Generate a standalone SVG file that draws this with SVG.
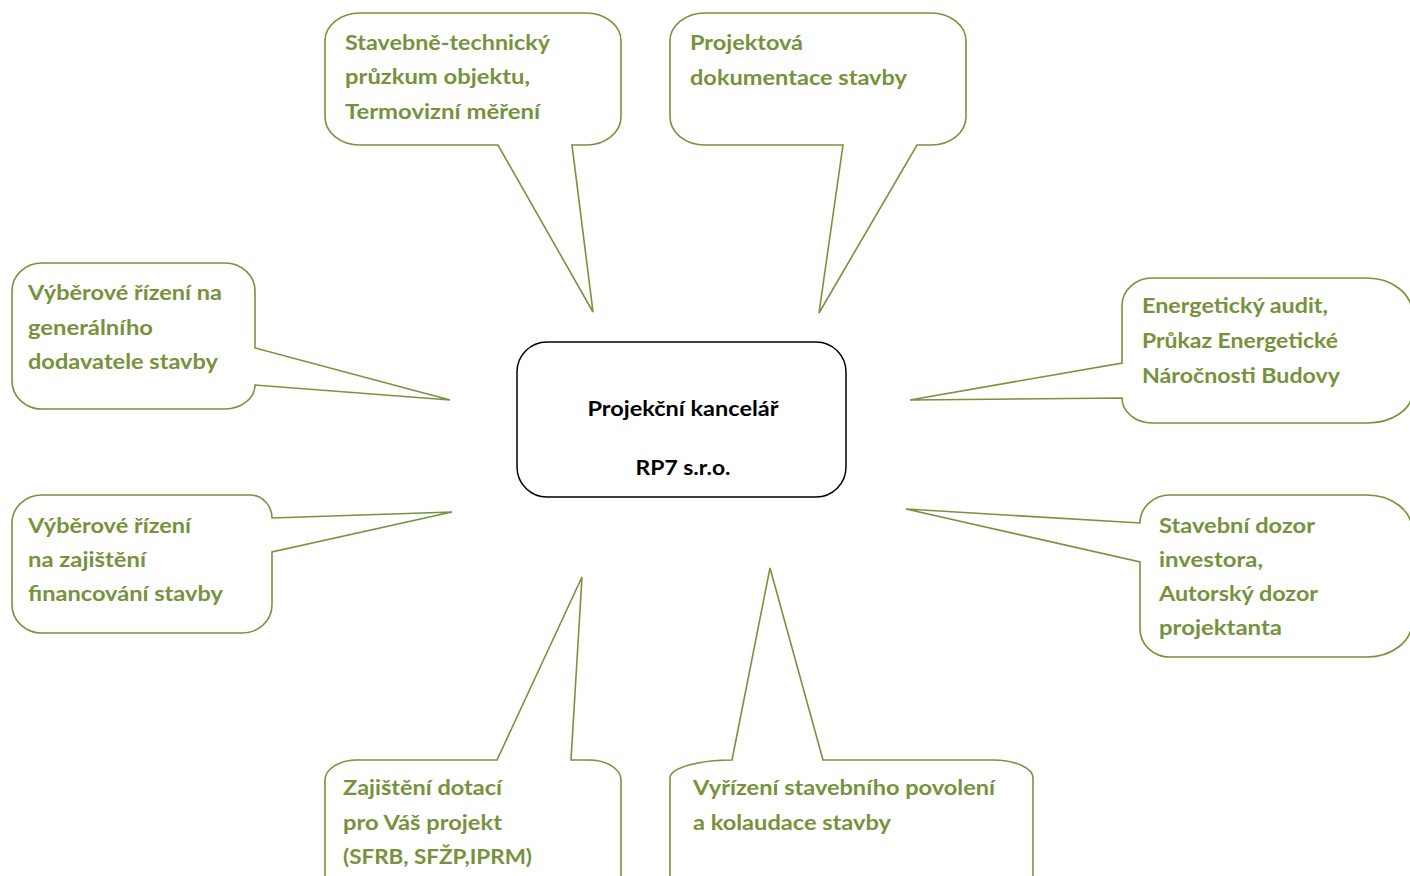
<svg xmlns="http://www.w3.org/2000/svg" width="1410" height="876" viewBox="0 0 1410 876">
<style>
.b{fill:#fff;stroke:#77933c;stroke-width:1.6;stroke-linejoin:miter}
.t{font-family:Lato,"Open Sans","Liberation Sans",sans-serif;font-weight:bold;font-size:21px;fill:#76923c}
.c{font-family:Lato,"Open Sans","Liberation Sans",sans-serif;font-weight:bold;font-size:20px;fill:#000;text-anchor:middle}
</style>
<rect width="1410" height="876" fill="#fff"/>
<g id="center">
<rect x="517" y="342" width="329" height="155" rx="30" ry="30" fill="#fff" stroke="#000" stroke-width="1.5"/>
<text class="c" x="683" y="416" textLength="191" lengthAdjust="spacingAndGlyphs">Projekční kancelář</text>
<text class="c" x="683" y="475" textLength="95" lengthAdjust="spacingAndGlyphs">RP7 s.r.o.</text>
</g>
<g id="connectors"></g>
<g id="n-pruzkum">
<path class="b" d="M360,13 H586 A35 28 0 0 1 621,41 V117 A35 28 0 0 1 586,145 H572 L593,312 L498,145 H360 A35 28 0 0 1 325,117 V41 A35 28 0 0 1 360,13 Z"/>
<text class="t" x="345" y="50" textLength="205" lengthAdjust="spacingAndGlyphs">Stavebně-technický</text>
<text class="t" x="345" y="84" textLength="185" lengthAdjust="spacingAndGlyphs">průzkum objektu,</text>
<text class="t" x="345" y="119" textLength="195" lengthAdjust="spacingAndGlyphs">Termovizní měření</text>
</g>
<g id="n-dokumentace">
<path class="b" d="M705,13 H931 A35 28 0 0 1 966,41 V117 A35 28 0 0 1 931,145 H917 L819,313 L843,145 H705 A35 28 0 0 1 670,117 V41 A35 28 0 0 1 705,13 Z"/>
<text class="t" x="690" y="50" textLength="113" lengthAdjust="spacingAndGlyphs">Projektová</text>
<text class="t" x="690" y="85" textLength="217" lengthAdjust="spacingAndGlyphs">dokumentace stavby</text>
</g>
<g id="n-vr-dodavatel">
<path class="b" d="M42,263 H225 A30 28 0 0 1 255,291 V348 L450,400 L255,385 A30 24 0 0 1 225,409 H42 A30 28 0 0 1 12,381 V291 A30 28 0 0 1 42,263 Z"/>
<text class="t" x="28" y="300" textLength="194" lengthAdjust="spacingAndGlyphs">Výběrové řízení na</text>
<text class="t" x="28" y="335" textLength="125" lengthAdjust="spacingAndGlyphs">generálního</text>
<text class="t" x="28" y="369" textLength="190" lengthAdjust="spacingAndGlyphs">dodavatele stavby</text>
</g>
<g id="n-energeticky">
<path class="b" d="M1152,278 H1367 A45 35 0 0 1 1412,313 V393 A45 30 0 0 1 1367,423 H1152 A30 25 0 0 1 1122,398 L910,400 L1122,363 V306 A30 28 0 0 1 1152,278 Z"/>
<text class="t" x="1142" y="313" textLength="186" lengthAdjust="spacingAndGlyphs">Energetický audit,</text>
<text class="t" x="1142" y="348" textLength="196" lengthAdjust="spacingAndGlyphs">Průkaz Energetické</text>
<text class="t" x="1142" y="383" textLength="198" lengthAdjust="spacingAndGlyphs">Náročnosti Budovy</text>
</g>
<g id="n-vr-financovani">
<path class="b" d="M42,495 H250 A22 23 0 0 1 272,518 L452,512 L272,552 V605 A30 28 0 0 1 242,633 H42 A30 28 0 0 1 12,605 V523 A30 28 0 0 1 42,495 Z"/>
<text class="t" x="28" y="533" textLength="163" lengthAdjust="spacingAndGlyphs">Výběrové řízení</text>
<text class="t" x="28" y="567" textLength="118" lengthAdjust="spacingAndGlyphs">na zajištění</text>
<text class="t" x="28" y="601" textLength="195" lengthAdjust="spacingAndGlyphs">financování stavby</text>
</g>
<g id="n-dozor">
<path class="b" d="M1170,495 H1367 A45 35 0 0 1 1412,530 V622 A45 35 0 0 1 1367,657 H1170 A30 28 0 0 1 1140,629 V562 L906,509 L1140,523 A30 28 0 0 1 1170,495 Z"/>
<text class="t" x="1159" y="533" textLength="156" lengthAdjust="spacingAndGlyphs">Stavební dozor</text>
<text class="t" x="1159" y="567" textLength="104" lengthAdjust="spacingAndGlyphs">investora,</text>
<text class="t" x="1159" y="601" textLength="159" lengthAdjust="spacingAndGlyphs">Autorský dozor</text>
<text class="t" x="1159" y="635" textLength="123" lengthAdjust="spacingAndGlyphs">projektanta</text>
</g>
<g id="n-dotace">
<path class="b" d="M357,760 H497 L582,577 L571,760 H589 A32 20 0 0 1 621,780 V877 A30 28 0 0 1 591,905 H355 A30 28 0 0 1 325,877 V780 A32 20 0 0 1 357,760 Z"/>
<text class="t" x="343" y="795" textLength="159" lengthAdjust="spacingAndGlyphs">Zajištění dotací</text>
<text class="t" x="343" y="830" textLength="159" lengthAdjust="spacingAndGlyphs">pro Váš projekt</text>
<text class="t" x="343" y="864" textLength="189" lengthAdjust="spacingAndGlyphs">(SFRB, SFŽP,IPRM)</text>
</g>
<g id="n-povoleni">
<path class="b" d="M732,760 L770,568 L823,760 H993 A40 18 0 0 1 1033,778 V877 A30 28 0 0 1 1003,905 H700 A30 28 0 0 1 670,877 V778 A62 18 0 0 1 732,760 Z"/>
<text class="t" x="693" y="795" textLength="302" lengthAdjust="spacingAndGlyphs">Vyřízení stavebního povolení</text>
<text class="t" x="693" y="830" textLength="198" lengthAdjust="spacingAndGlyphs">a kolaudace stavby</text>
</g>
</svg>
